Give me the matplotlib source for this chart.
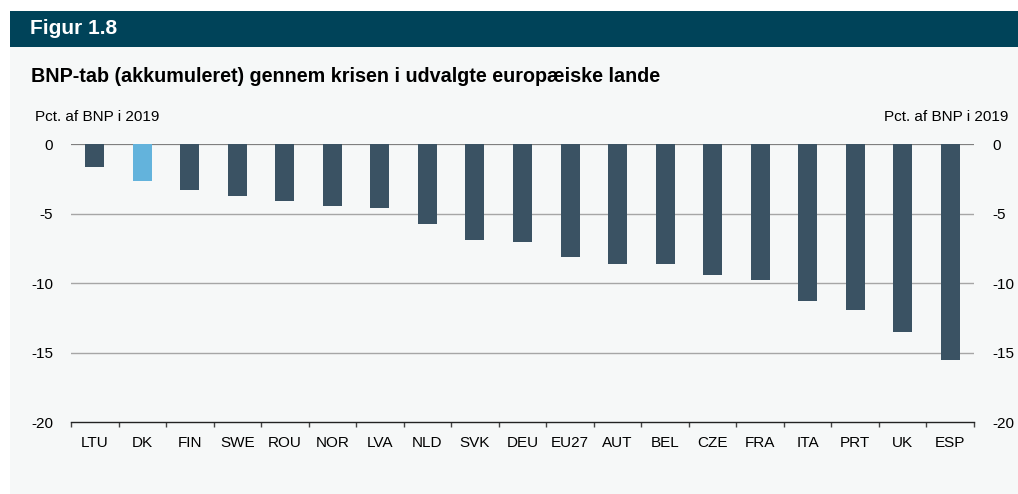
import numpy as np
import matplotlib.pyplot as plt
from matplotlib.patches import Rectangle

plt.rcParams['font.family'] = ['Liberation Sans', 'DejaVu Sans']

countries = ['LTU', 'DK', 'FIN', 'SWE', 'ROU', 'NOR', 'LVA', 'NLD', 'SVK', 'DEU',
             'EU27', 'AUT', 'BEL', 'CZE', 'FRA', 'ITA', 'PRT', 'UK', 'ESP']
gdp_loss = [-1.6, -2.6, -3.3, -3.7, -4.1, -4.4, -4.6, -5.7, -6.9, -7.0,
            -8.1, -8.6, -8.6, -9.4, -9.8, -11.3, -11.9, -13.5, -15.5]
highlight = 'DK'
yticks = [0, -5, -10, -15, -20]

W, H = 1018, 494
dark = '#3a5263'
light = '#63b3dc'
bg = '#f6f8f8'

fig = plt.figure(figsize=(W / 100, H / 100), dpi=100)
fig.patch.set_facecolor('white')

# panel background and header band
fig.patches.append(Rectangle((10 / W, 0), 1 - 10 / W, (H - 47) / H,
                             transform=fig.transFigure, facecolor=bg, edgecolor='none', zorder=-2))
fig.patches.append(Rectangle((10 / W, (H - 47) / H), 1 - 10 / W, 36 / H,
                             transform=fig.transFigure, facecolor='#004359', edgecolor='none', zorder=-2))

fig.text(30 / W, 1 - 29 / H, 'Figur 1.8', color='white', fontsize=15, fontweight='bold',
         ha='left', va='center')
fig.text(31 / W, 1 - 76 / H, 'BNP-tab (akkumuleret) gennem krisen i udvalgte europæiske lande',
         color='black', fontsize=14.2, fontweight='bold', ha='left', va='center')
fig.text(35 / W, 1 - 117 / H, 'Pct. af BNP i 2019', fontsize=11, ha='left', va='center')
fig.text(1008 / W, 1 - 117 / H, 'Pct. af BNP i 2019', fontsize=11, ha='right', va='center')

left, right, top, bottom = 71, 974, 144.5, 422
ax = fig.add_axes([left / W, 1 - bottom / H, (right - left) / W, (bottom - top) / H])
ax.set_facecolor('none')

x = np.arange(len(countries))
colors = [light if c == highlight else dark for c in countries]
ax.bar(x, gdp_loss, width=0.4, color=colors, zorder=3)

ax.set_xlim(-0.5, len(countries) - 0.5)
ax.set_ylim(-20, 0)
ax.set_yticks(yticks)
ax.set_yticklabels([str(t) for t in yticks])
for t in yticks[1:-1]:
    ax.axhline(t, color='#a6a6a6', lw=1, zorder=1)
ax.axhline(0, color='#7f7f7f', lw=1.6, zorder=2)

for s in ['top', 'left', 'right']:
    ax.spines[s].set_visible(False)
ax.spines['bottom'].set_color('#222222')
ax.spines['bottom'].set_linewidth(1)

ax.set_xticks(x)
ax.set_xticklabels(countries, fontsize=11)
ax.set_xticks(np.arange(len(countries) + 1) - 0.5, minor=True)
ax.tick_params(axis='x', which='major', length=0, pad=10)
ax.tick_params(axis='x', which='minor', length=3.5, color='#444444', width=1)
ax.tick_params(axis='y', length=0, pad=13, labelsize=11)

ax2 = ax.twinx()
ax2.set_ylim(-20, 0)
ax2.set_yticks(yticks)
ax2.set_yticklabels([str(t) for t in yticks])
ax2.tick_params(axis='y', length=0, pad=13, labelsize=11)
for s in ax2.spines.values():
    s.set_visible(False)

fig.savefig('out.png', dpi=100, facecolor=fig.get_facecolor())
